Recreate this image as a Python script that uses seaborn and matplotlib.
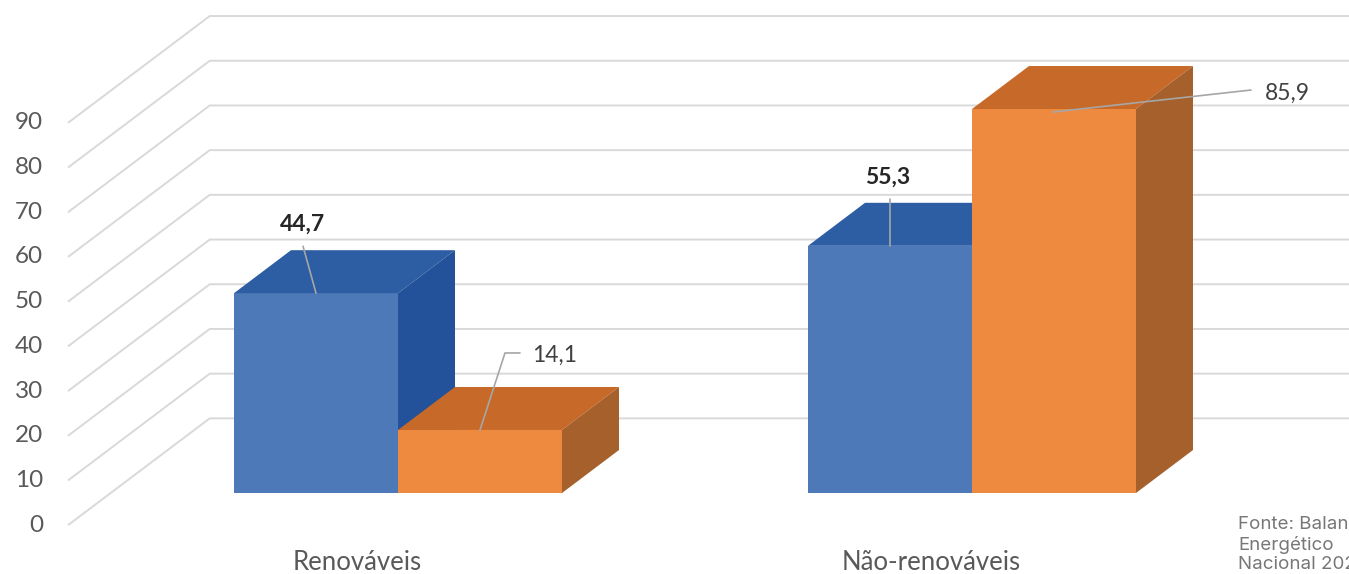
import matplotlib
matplotlib.use("Agg")  # no display in the sandbox

import matplotlib.pyplot as plt
import pandas as pd
import seaborn as sns
from matplotlib.patches import Polygon

# Data
categories = ["Renováveis", "Não-renováveis"]
series = ["Brasil", "Mundo"]
brasil = [44.7, 55.3]
mundo = [14.1, 85.9]
y_ticks = [0, 10, 20, 30, 40, 50, 60, 70, 80, 90]
source_text = "Fonte: Balanço\nEnergético\nNacional 2021"

df = pd.DataFrame({
    "categoria": categories * 2,
    "serie": [series[0]] * len(categories) + [series[1]] * len(categories),
    "valor": brasil + mundo,
})

# Colours (front / top / side faces of the 3D bars)
front_colors = {"Brasil": "#4e79b8", "Mundo": "#ed8a3f"}
top_colors = {"Brasil": "#2d5da2", "Mundo": "#c76a29"}
side_colors = {"Brasil": "#23529a", "Mundo": "#a6602b"}
grid_color = "#d9d9d9"
text_color = "#595959"

# 3D geometry, in pixels
DEPTH = (57, 43)          # bar depth (right, up)
WALL_X, WALL_DY = -0.328, 16.7     # back wall: x start, y offset from front plane
LABEL_X, LABEL_DY = -0.575, -7.2   # front label plane

# leader lines / label offsets in pixels (right, down) from bar front-top centre
label_layout = {
    ("Renováveis", "Brasil"): dict(path=[(-13, -47)], text=(-14, -69), ha="center", bold=True),
    ("Renováveis", "Mundo"): dict(path=[(25, -77), (40, -77)], text=(52, -75), ha="left", bold=False),
    ("Não-renováveis", "Brasil"): dict(path=[(0, -47)], text=(-2, -69), ha="center", bold=True),
    ("Não-renováveis", "Mundo"): dict(path=[(197, -19)], text=(211, -16), ha="left", bold=False,
                                      start=(-1, 3)),
}

sns.set_theme(style="white")
plt.rcParams["font.family"] = ["Lato", "DejaVu Sans"]

fig = plt.figure(figsize=(13.49, 5.74), dpi=100)
ax = fig.add_axes([0, 0, 1, 1])

sns.barplot(data=df, x="categoria", y="valor", hue="serie", order=categories,
            hue_order=series, palette=front_colors, saturation=1, width=0.5714,
            gap=0, linewidth=0, legend=False, ax=ax)

ax.set_xlim(-0.6934, 1.6568)
ax.set_ylim(-18.12, 110.29)
ax.axis("off")


def shift(x, y, dx, dy):
    """Move a data point by dx, dy display pixels (dy up)."""
    px, py = ax.transData.transform((x, y))
    return ax.transData.inverted().transform((px + dx, py + dy))


# back wall grid with the diagonal floor lines
for v in y_ticks:
    ax.plot([LABEL_X, WALL_X, ax.get_xlim()[1]], [v + LABEL_DY, v + WALL_DY, v + WALL_DY],
            color=grid_color, lw=1.4, zorder=1, solid_capstyle="butt")
    ax.text(-0.6185, v + LABEL_DY, str(v), ha="right", va="center",
            fontsize=17.5, color=text_color)

# 3D faces
for i, name in enumerate(series):
    for j, bar in enumerate(ax.containers[i]):
        x0 = bar.get_x()
        x1 = x0 + bar.get_width()
        h = bar.get_height()
        bar.set_zorder(3 + i)
        top = [(x0, h), (x1, h), shift(x1, h, *DEPTH), shift(x0, h, *DEPTH)]
        side = [(x1, 0), (x1, h), shift(x1, h, *DEPTH), shift(x1, 0, *DEPTH)]
        ax.add_patch(Polygon(top, closed=True, fc=top_colors[name], lw=0, zorder=3 + i))
        ax.add_patch(Polygon(side, closed=True, fc=side_colors[name], lw=0, zorder=3 + i))

        # value label with leader line
        lay = label_layout[(categories[j], name)]
        cx = x0 + bar.get_width() / 2
        sx, sy = lay.get("start", (0, 0))
        pts = [shift(cx, h, sx, -sy)] + [shift(cx, h, dx, -dy) for dx, dy in lay["path"]]
        ax.plot([p[0] for p in pts], [p[1] for p in pts], color="#a6a6a6", lw=1.2, zorder=6)
        tx, ty = shift(cx, h, lay["text"][0], -lay["text"][1])
        ax.text(tx, ty, f"{h:.1f}".replace(".", ","), ha=lay["ha"], va="center",
                fontsize=16.5, color="#262626" if lay["bold"] else "#404040",
                fontweight="bold" if lay["bold"] else "normal", zorder=7)

# category labels on the front plane
for j, cat in enumerate(categories):
    ax.text(j - 0.0714, -15.5, cat, ha="center", va="center", fontsize=18.5, color=text_color)

fig.text(1238 / 1349, 1 - 516 / 574, source_text, ha="left", va="top", fontsize=13.5,
         color="#777777", family=["Inter", "DejaVu Sans"], linespacing=1.2)

fig.savefig("out.png", dpi=100)
